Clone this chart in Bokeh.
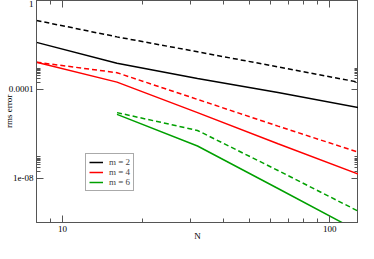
from bokeh.plotting import figure
from bokeh.models import (FixedTicker, LogAxis, CustomJSTickFormatter, Legend, LegendItem)
from bokeh.embed import file_html
from bokeh.resources import INLINE

# ---- data ----
N = [8, 16, 32, 64, 128]
N6 = [16, 32, 64, 128]
m2_solid = [1.3e-2, 1.5e-3, 3.1e-4, 7.1e-5, 1.5e-5]
m2_dash = [1.26e-1, 2.3e-2, 4.9e-3, 1.02e-3, 2.1e-4]
m4_solid = [1.66e-3, 2.1e-4, 8.9e-6, 3.5e-7, 1.5e-8]
m4_dash = [1.66e-3, 5.6e-4, 3.5e-5, 2.2e-6, 1.45e-7]
m6_solid = [7.4e-6, 2.8e-7, 3.4e-9, 4.0e-11]
m6_dash = [8.9e-6, 1.4e-6, 2.2e-8, 3.2e-10]
legend_labels = ["m = 2", "m = 4", "m = 6"]
colors = ["#000000", "#ff0000", "#00a000"]

x_major = [10, 100]
x_major_labels = ["10", "100"]
x_minor = [9, 20, 30, 40, 50, 60, 70, 80, 90]
y_major = [1e-8, 1e-4, 1]
y_major_labels = ["1e-08", "0.0001", "1"]
y_minor = [2e-8, 3e-8, 4e-8, 5e-8, 6e-8, 7e-8, 8e-8, 9e-8,
           2e-4, 3e-4, 4e-4, 5e-4, 6e-4, 7e-4, 8e-4, 9e-4]

FONT = "Liberation Serif"
AX = "#555555"

p = figure(width=358, height=243, x_axis_type="log", y_axis_type="log",
           x_range=(8, 128), y_range=(1e-10, 1),
           output_backend="svg", toolbar_location=None,
           min_border_left=0, min_border_right=0, min_border_top=0, min_border_bottom=0)
p.xgrid.visible = False
p.ygrid.visible = False
p.outline_line_color = AX
p.background_fill_color = "white"

fmt_code = ("for (let i=0;i<v.length;i++){ if (Math.abs(Math.log10(tick)-Math.log10(v[i]))<1e-6) return l[i]; } return '';")
xfmt = CustomJSTickFormatter(args=dict(v=x_major, l=x_major_labels), code=fmt_code)
yfmt = CustomJSTickFormatter(args=dict(v=y_major, l=y_major_labels), code=fmt_code)


def style(ax):
    ax.axis_line_color = AX
    ax.major_tick_line_color = AX
    ax.minor_tick_line_color = AX
    ax.major_tick_in = 7
    ax.major_tick_out = 0
    ax.minor_tick_in = 4
    ax.minor_tick_out = 0
    ax.major_label_text_font = FONT
    ax.major_label_text_font_size = "9px"
    ax.major_label_text_color = "#000000"
    ax.axis_label_text_font = FONT
    ax.axis_label_text_font_size = "9px"
    ax.axis_label_text_font_style = "normal"
    ax.axis_label_text_color = "#000000"


xa = p.xaxis[0]
xa.ticker = FixedTicker(ticks=x_major, minor_ticks=x_minor)
xa.formatter = xfmt
style(xa)
xa.axis_label = "N"
xa.major_label_standoff = 3
xa.axis_label_standoff = -4

ya = p.yaxis[0]
ya.ticker = FixedTicker(ticks=y_major, minor_ticks=y_minor)
ya.formatter = yfmt
style(ya)
ya.axis_label = "rms error"
ya.major_label_standoff = 3
ya.axis_label_standoff = -8

for side in ("above", "right"):
    t = FixedTicker(ticks=x_major, minor_ticks=x_minor) if side == "above" else FixedTicker(ticks=y_major, minor_ticks=y_minor)
    ax = LogAxis(ticker=t)
    style(ax)
    ax.major_label_text_alpha = 0
    ax.major_label_text_font_size = "0px"
    ax.major_label_standoff = 0
    ax.axis_label_standoff = 0
    ax.formatter = CustomJSTickFormatter(code="return '';")
    p.add_layout(ax, side)

lw = 1.5
r2 = p.line(N, m2_solid, line_color=colors[0], line_width=lw)
p.line(N, m2_dash, line_color=colors[0], line_width=lw, line_dash="5 3")
r4 = p.line(N, m4_solid, line_color=colors[1], line_width=lw)
p.line(N, m4_dash, line_color=colors[1], line_width=lw, line_dash="5 3")
r6 = p.line(N6, m6_solid, line_color=colors[2], line_width=lw)
p.line(N6, m6_dash, line_color=colors[2], line_width=lw, line_dash="5 3")

legend = Legend(items=[LegendItem(label=legend_labels[0], renderers=[r2]),
                       LegendItem(label=legend_labels[1], renderers=[r4]),
                       LegendItem(label=legend_labels[2], renderers=[r6])],
                location=(49, 31))
legend.label_text_font = FONT
legend.label_text_font_size = "9px"
legend.label_height = 8
legend.glyph_height = 8
legend.glyph_width = 14
legend.spacing = -2
legend.padding = 3
legend.margin = 0
legend.label_standoff = 6
legend.border_line_color = AX
legend.border_line_width = 1
legend.background_fill_alpha = 1
p.add_layout(legend, "center")

open("out.html", "w").write(file_html(p, INLINE))
